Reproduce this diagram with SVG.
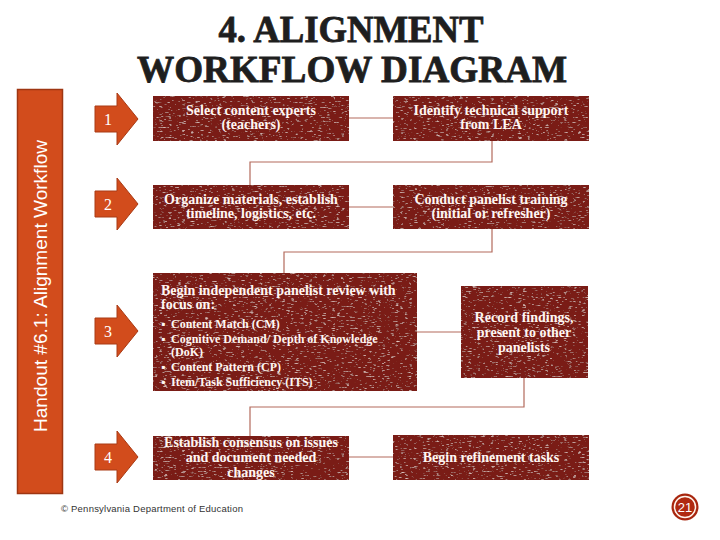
<svg xmlns="http://www.w3.org/2000/svg" width="720" height="540" viewBox="0 0 720 540">
<defs>
<filter id="grunge" x="0" y="0" width="1" height="1">
<feTurbulence type="fractalNoise" baseFrequency="0.22 0.8" numOctaves="2" seed="4" result="n"/>
<feColorMatrix in="n" type="matrix" values="0 0 0 0 0.90  0 0 0 0 0.68  0 0 0 0 0.64  3 0 0 0 -1.85" result="specks"/>
<feComposite in="specks" in2="SourceGraphic" operator="atop"/>
</filter>
<style>
.box{fill:#7A1E12;filter:url(#grunge);}
.bt{font-family:"Liberation Serif","Times New Roman",serif;font-weight:bold;font-size:14px;fill:#FFF6F2;text-anchor:middle;}
.bl{font-family:"Liberation Serif","Times New Roman",serif;font-weight:bold;fill:#FFF6F2;}
.arrow{fill:#D24C1C;stroke:#A93A14;stroke-width:1;}
.num{font-family:"Liberation Serif","Times New Roman",serif;font-size:16px;fill:#FFFFFF;text-anchor:middle;}
.conn{fill:none;stroke:#B36A5C;stroke-width:1.2;}
.title{font-family:"Liberation Serif","Times New Roman",serif;font-weight:bold;font-size:38px;fill:#1E1E1E;stroke:#1E1E1E;stroke-width:0.8;text-anchor:middle;}
</style>
</defs>
<rect width="720" height="540" fill="#FFFFFF"/>

<g id="title">
<text class="title" x="351" y="42" textLength="265" lengthAdjust="spacingAndGlyphs">4. ALIGNMENT</text>
<text class="title" x="352" y="82" textLength="430" lengthAdjust="spacingAndGlyphs">WORKFLOW DIAGRAM</text>
</g>

<g id="sidebar">
<rect x="17.5" y="89.5" width="45" height="404" fill="#D24C1C" stroke="#9E3612" stroke-width="1.5"/>
<text x="0" y="0" transform="translate(47,286) rotate(-90)" font-family="'Liberation Sans',Arial,sans-serif" font-size="19" fill="#FFFFFF" text-anchor="middle" textLength="292" lengthAdjust="spacingAndGlyphs">Handout #6.1: Alignment Workflow</text>
</g>

<g id="connectors">
<path class="conn" d="M349,118 H393"/>
<path class="conn" d="M492,141 V162 H250 V185"/>
<path class="conn" d="M349,207 H393"/>
<path class="conn" d="M492,229 V252 H284 V273"/>
<path class="conn" d="M417,332 H461"/>
<path class="conn" d="M524,378 V407 H250 V436"/>
<path class="conn" d="M349,457 H393"/>
</g>

<g id="arrow1">
<path class="arrow" d="M95,106 H117 V93 L138,119 L117,145 V132 H95 Z"/>
<text class="num" x="108" y="125">1</text>
</g>
<g id="arrow2">
<path class="arrow" d="M95,191 H117 V178 L138,204 L117,230 V217 H95 Z"/>
<text class="num" x="108" y="210">2</text>
</g>
<g id="arrow3">
<path class="arrow" d="M95,318 H117 V305 L138,331 L117,357 V344 H95 Z"/>
<text class="num" x="108" y="337">3</text>
</g>
<g id="arrow4">
<path class="arrow" d="M95,444 H117 V431 L138,457 L117,483 V470 H95 Z"/>
<text class="num" x="108" y="463">4</text>
</g>

<g id="step1a">
<rect class="box" x="153" y="96" width="196" height="45"/>
<text class="bt" x="251" y="115">Select content experts</text>
<text class="bt" x="251" y="129">(teachers)</text>
</g>
<g id="step1b">
<rect class="box" x="393" y="96" width="196" height="45"/>
<text class="bt" x="491" y="115">Identify technical support</text>
<text class="bt" x="491" y="129">from LEA</text>
</g>
<g id="step2a">
<rect class="box" x="153" y="185" width="196" height="44"/>
<text class="bt" x="251" y="204">Organize materials, establish</text>
<text class="bt" x="251" y="218">timeline, logistics, etc.</text>
</g>
<g id="step2b">
<rect class="box" x="393" y="185" width="196" height="44"/>
<text class="bt" x="491" y="204">Conduct panelist training</text>
<text class="bt" x="491" y="218">(initial or refresher)</text>
</g>
<g id="step3a">
<rect class="box" x="153" y="273" width="264" height="118"/>
<text class="bl" x="161" y="295" font-size="14">Begin independent panelist review with</text>
<text class="bl" x="161" y="309" font-size="14">focus on:</text>
<g font-size="12">
<text class="bl" x="161" y="328">▪</text><text class="bl" x="171" y="328">Content Match (CM)</text>
<text class="bl" x="161" y="343">▪</text><text class="bl" x="171" y="343">Cognitive Demand/ Depth of Knowledge</text>
<text class="bl" x="171" y="356">(DoK)</text>
<text class="bl" x="161" y="371">▪</text><text class="bl" x="171" y="371">Content Pattern (CP)</text>
<text class="bl" x="161" y="386">▪</text><text class="bl" x="171" y="386">Item/Task Sufficiency (ITS)</text>
</g>
</g>
<g id="step3b">
<rect class="box" x="461" y="286" width="127" height="92"/>
<text class="bt" x="524" y="322">Record findings,</text>
<text class="bt" x="524" y="337">present to other</text>
<text class="bt" x="524" y="352">panelists</text>
</g>
<g id="step4a">
<rect class="box" x="153" y="436" width="196" height="44"/>
<text class="bt" x="251" y="447">Establish consensus on issues</text>
<text class="bt" x="251" y="462">and document needed</text>
<text class="bt" x="251" y="477">changes</text>
</g>
<g id="step4b">
<rect class="box" x="393" y="435" width="196" height="45"/>
<text class="bt" x="491" y="462">Begin refinement tasks</text>
</g>

<g id="footer">
<text x="61" y="512" font-family="'Liberation Sans',Arial,sans-serif" font-size="9.5" fill="#333333" textLength="182" lengthAdjust="spacing">© Pennsylvania Department of Education</text>
</g>
<g id="page-number">
<circle cx="685" cy="507" r="13.5" fill="#A8260E"/>
<circle cx="685" cy="507" r="10.5" fill="#B02A10" stroke="#FFF4EC" stroke-width="1.5"/>
<text x="685" y="512" font-family="'Liberation Sans',Arial,sans-serif" font-size="13" fill="#FFFFFF" text-anchor="middle">21</text>
</g>
</svg>
